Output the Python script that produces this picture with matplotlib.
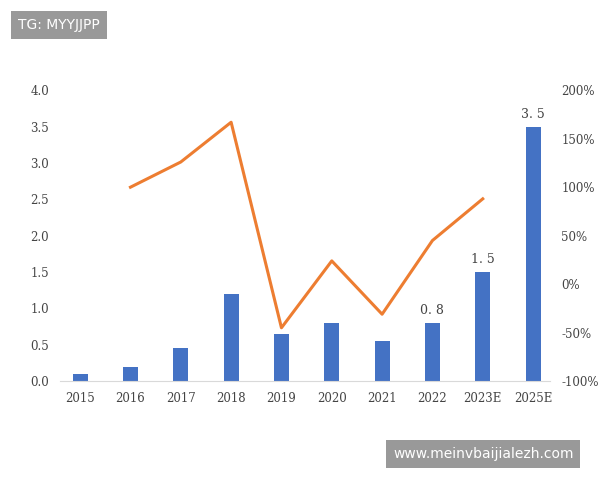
import matplotlib
matplotlib.use("Agg")
import matplotlib.pyplot as plt
from matplotlib.ticker import FuncFormatter

years = ["2015", "2016", "2017", "2018", "2019", "2020", "2021", "2022", "2023E", "2025E"]
values = [0.1, 0.2, 0.45, 1.2, 0.65, 0.8, 0.55, 0.8, 1.5, 3.5]
growth_years = ["2016", "2017", "2018", "2019", "2020", "2021", "2022", "2023E"]
growth = [100, 126, 167, -45, 24, -31, 45, 88]
labeled = {"2022": "0. 8", "2023E": "1. 5", "2025E": "3. 5"}

fig = plt.figure(figsize=(6, 4.8), dpi=100)
ax = fig.add_axes([0.1, 0.206, 0.817, 0.606])
x = list(range(len(years)))
ax.bar(x, values, width=0.3, color="#4472C4", zorder=2)
for i, y in enumerate(years):
    if y in labeled:
        ax.text(i, values[i] + 0.08, labeled[y], ha="center", va="bottom", fontsize=9, color="#444444", family="DejaVu Serif")
ax.set_ylim(0, 4.0)
ax.set_xlim(-0.4, len(years) - 0.66)
ax.set_yticks([0, 0.5, 1, 1.5, 2, 2.5, 3, 3.5, 4])
ax.yaxis.set_major_formatter(FuncFormatter(lambda v, p: f"{v:.1f}"))
ax.set_xticks(x)
ax.set_xticklabels(years)
for s in ["top", "right", "left"]:
    ax.spines[s].set_visible(False)
ax.spines["bottom"].set_color("#d9d9d9")
ax.tick_params(length=0, labelsize=8.5, colors="#444444", pad=8)
for lab in ax.get_xticklabels() + ax.get_yticklabels():
    lab.set_family("DejaVu Serif")

ax2 = ax.twinx()
gx = [years.index(g) for g in growth_years]
ax2.plot(gx, growth, color="#ED7D31", lw=2.2, zorder=3)
ax2.set_ylim(-100, 200)
ax2.set_yticks(range(-100, 201, 50))
ax2.yaxis.set_major_formatter(FuncFormatter(lambda v, p: f"{int(v)}%"))
for s in ["top", "right", "left", "bottom"]:
    ax2.spines[s].set_visible(False)
ax2.tick_params(length=0, labelsize=8.5, colors="#444444", pad=8)
for lab in ax2.get_yticklabels():
    lab.set_family("DejaVu Serif")

fig.text(0.03, 0.948, "TG: MYYJJPP", fontsize=10, color="white", va="center", ha="left",
         bbox=dict(boxstyle="square,pad=0.5", fc="#999999", ec="none"))
fig.text(0.655, 0.054, "www.meinvbaijialezh.com", fontsize=10, color="white", va="center", ha="left",
         bbox=dict(boxstyle="square,pad=0.5", fc="#999999", ec="none"))
fig.savefig("out.png", dpi=100)
